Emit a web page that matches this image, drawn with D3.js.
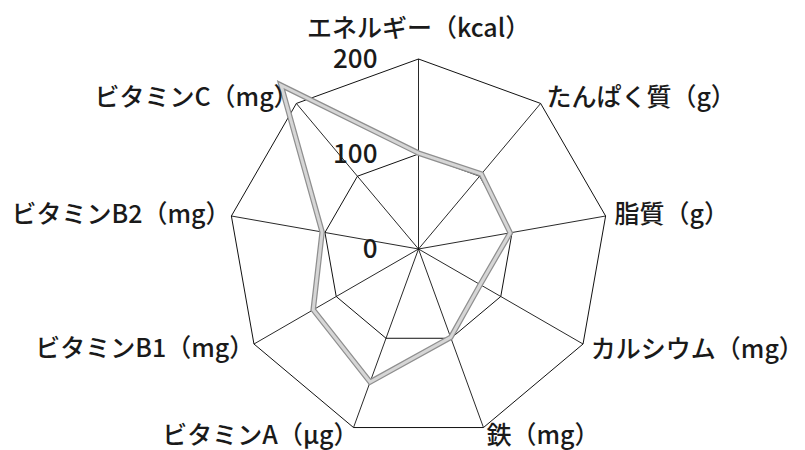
<!DOCTYPE html>
<html>
<head>
<meta charset="utf-8">
<script src="https://cdn.jsdelivr.net/npm/d3@7"></script>
<style>
  html, body { margin: 0; padding: 0; background: #fff; }
  svg { display: block; }
  text { font-family: "Noto Sans CJK JP", "Noto Sans", sans-serif; fill: #1a1a1a; font-weight: 500; }
</style>
</head>
<body>
<div id="chart"></div>
<script>
// nutrient axes, clockwise from the top
const categories = [
  "エネルギー（kcal）", "たんぱく質（g）", "脂質（g）", "カルシウム（mg）", "鉄（mg）",
  "ビタミンA（μg）", "ビタミンB1（mg）", "ビタミンB2（mg）", "ビタミンC（mg）"
]
// percent of the standard intake
const values = [101, 103, 98, 75, 99, 149, 128, 103, 225]
const ticks = [0, 100, 200]

const width = 805, height = 450
const cx = 418.5, cy = 249, R = 190

const svg = d3.select("#chart").append("svg")
  .attr("width", width)
  .attr("height", height)

const g = svg.append("g").attr("transform", `translate(${cx},${cy})`)

const r = d3.scaleLinear().domain([0, 200]).range([0, R])
const angle = d3.scaleLinear().domain([0, categories.length]).range([0, 2 * Math.PI])

const pt = (i, v) => [Math.sin(angle(i)) * r(v), -Math.cos(angle(i)) * r(v)]

// grid rings
ticks.filter(t => t > 0).forEach(t => {
  g.append("path")
    .attr("d", d3.lineRadial().angle((d, i) => angle(i)).radius(() => r(t)).curve(d3.curveLinearClosed)(categories))
    .attr("fill", "none")
    .attr("stroke", "#111")
    .attr("stroke-width", 1)
})

// spokes
g.selectAll(".spoke")
  .data(categories)
  .enter().append("line")
    .attr("class", "spoke")
    .attr("x1", 0).attr("y1", 0)
    .attr("x2", (d, i) => pt(i, 200)[0])
    .attr("y2", (d, i) => pt(i, 200)[1])
    .attr("stroke", "#111")
    .attr("stroke-width", 0.9)

// data line, grey with a darker edge like the print
const radial = d3.lineRadial()
  .angle((d, i) => angle(i))
  .radius(d => r(d))
  .curve(d3.curveLinearClosed)

g.append("path")
  .attr("d", radial(values))
  .attr("fill", "none")
  .attr("stroke", "#8f8f8f")
  .attr("stroke-width", 5.5)
  .attr("stroke-linejoin", "miter")
g.append("path")
  .attr("d", radial(values))
  .attr("fill", "none")
  .attr("stroke", "#d6d6d6")
  .attr("stroke-width", 3)
  .attr("stroke-linejoin", "miter")

// tick numbers
g.selectAll(".tick")
  .data(ticks)
  .enter().append("text")
    .attr("class", "tick")
    .attr("x", -41)
    .attr("y", d => -r(d))
    .attr("dy", "0.36em")
    .attr("text-anchor", "end")
    .style("font-size", "26px")
    .text(d => d)

// axis labels
g.selectAll(".label")
  .data(categories)
  .enter().append("text")
    .attr("class", "label")
    .each(function(d, i) {
      const a = angle(i)
      let [x, y] = pt(i, 200 * (R + 9) / R)
      const s = Math.sin(a), c = Math.cos(a)
      if (c > 0.9) y -= 22
      else if (c < -0.5) y -= 1
      if (s < -0.1) x += 8 // full-width ）leaves blank space at the end
      d3.select(this)
        .attr("x", x)
        .attr("y", y)
        .attr("dy", "0.36em")
        .attr("text-anchor", s > 0.1 ? "start" : s < -0.1 ? "end" : "middle")
    })
    .style("font-size", "25px")
    .text(d => d)
</script>
</body>
</html>
